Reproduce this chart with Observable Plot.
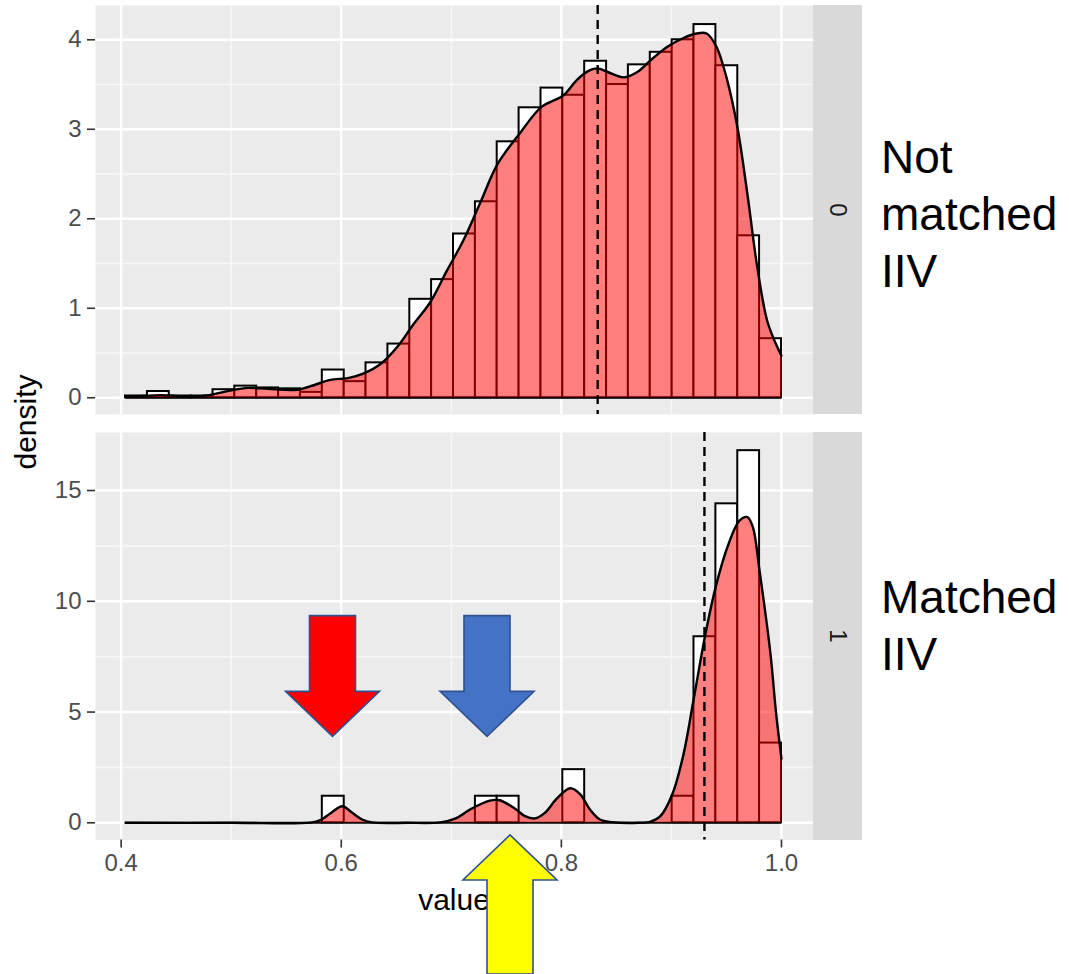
<!DOCTYPE html>
<html><head><meta charset="utf-8">
<script src="https://cdn.jsdelivr.net/npm/d3@7"></script>
<script src="https://cdn.jsdelivr.net/npm/@observablehq/plot@0.6"></script>
<style>
body{margin:0;background:#fff;font-family:"Liberation Sans",Arial,sans-serif;}
#wrap{position:relative;width:1069px;height:974px;overflow:hidden;background:#fff;}
.strip{position:absolute;background:#D9D9D9;display:flex;align-items:center;justify-content:center;}
.strip span{display:block;transform:rotate(90deg);font-size:24px;color:#1A1A1A;font-family:"Liberation Sans",Arial,sans-serif;}
</style></head><body><div id="wrap"></div>
<script>
// ---- data ----
const binEdges = [0.404,0.4239,0.4437,0.4636,0.4835,0.5033,0.5232,0.5431,0.5629,0.5828,0.6027,0.6225,0.6424,0.6623,0.6821,0.7020,0.7219,0.7417,0.7616,0.7815,0.8013,0.8212,0.8411,0.8609,0.8808,0.9007,0.9205,0.9404,0.9603,0.9801,1.0];
const topHist = [0.02,0.07,0.02,0.02,0.09,0.13,0.11,0.10,0.06,0.31,0.18,0.39,0.60,1.10,1.32,1.83,2.19,2.86,3.24,3.46,3.38,3.76,3.50,3.72,3.86,4.00,4.17,3.71,1.81,0.66];
const bottomHist = [0,0,0,0,0,0,0,0,0,1.2,0,0,0,0,0,0,1.2,1.2,0,0,2.4,0,0,0,0,1.2,8.4,14.4,16.8,3.6];
const topCurveX = [0.404,0.42,0.436,0.45,0.463,0.48,0.499,0.515,0.533,0.56,0.575,0.59,0.606,0.62,0.636,0.651,0.665,0.681,0.696,0.711,0.726,0.742,0.762,0.782,0.802,0.814,0.826,0.833,0.842,0.857,0.869,0.881,0.896,0.911,0.923,0.932,0.941,0.95,0.96,0.969,0.978,0.987,0.995,1.0];
const topCurveY = [0.01,0.02,0.03,0.02,0.01,0.03,0.08,0.11,0.10,0.09,0.14,0.20,0.22,0.27,0.38,0.57,0.81,1.07,1.42,1.76,2.17,2.61,2.95,3.25,3.38,3.55,3.66,3.68,3.64,3.58,3.64,3.77,3.92,4.02,4.07,4.07,3.92,3.58,3.02,2.28,1.46,0.86,0.60,0.47];
const bottomCurveX = [0.404,0.50,0.572,0.581,0.590,0.601,0.610,0.619,0.628,0.66,0.690,0.704,0.717,0.735,0.744,0.758,0.767,0.776,0.785,0.796,0.808,0.817,0.826,0.835,0.846,0.87,0.881,0.890,0.901,0.911,0.920,0.931,0.941,0.952,0.962,0.969,0.974,0.980,0.990,0.995,1.0];
const bottomCurveY = [0,0,0.01,0.12,0.42,0.75,0.45,0.15,0.02,0,0.02,0.2,0.6,1.0,1.02,0.63,0.3,0.2,0.45,1.1,1.56,1.3,0.6,0.15,0.03,0,0.05,0.3,1.31,3.1,5.52,8.55,10.8,12.6,13.65,13.8,13.35,11.4,7.63,5.0,2.9];
const means = [0.833, 0.930];
const facetLabels = ["0", "1"];
const xTicks = [0.4, 0.6, 0.8, 1.0];
const xMinor = [0.5, 0.7, 0.9];
const topYTicks = [0, 1, 2, 3, 4];
const topYMinor = [0.5, 1.5, 2.5, 3.5];
const bottomYTicks = [0, 5, 10, 15];
const bottomYMinor = [2.5, 7.5, 12.5];
const xLabel = "value";
const yLabel = "density";
const notes = [["Not", "matched", "IIV"], ["Matched", "IIV"]];
const arrows = [
  {value: 0.5925, tail: 9.33, tip: 3.88, fill: "#FF0000"},
  {value: 0.7329, tail: 9.33, tip: 3.88, fill: "#4472C4"},
  {value: 0.7538, tail: -6.85, tip: -0.57, fill: "#FFFF00"}
];

// ---- layout ----
const W = 1069, FONT = '"Liberation Sans", Arial, sans-serif';
const xDomain = [0.3767, 1.0291];
const mk = (hist) => d3.pairs(binEdges).map(([x1, x2], i) => ({x1, x2, y: hist[i]}));
const crv = (xs, ys) => xs.map((x, i) => ({x, y: ys[i]}));

function panel({hist, cx, cy, mean, yDomain, yTicks, yMinor, height, marginTop, marginBottom, xAxis}) {
  const marks = [
    Plot.frame({fill: "#EBEBEB", stroke: null}),
    Plot.gridX(xMinor, {stroke: "#F7F7F7", strokeOpacity: 1, strokeWidth: 1.5}),
    Plot.gridY(yMinor, {stroke: "#F7F7F7", strokeOpacity: 1, strokeWidth: 1.5}),
    Plot.gridX(xTicks, {stroke: "#FFFFFF", strokeOpacity: 1, strokeWidth: 2.4}),
    Plot.gridY(yTicks, {stroke: "#FFFFFF", strokeOpacity: 1, strokeWidth: 2.4}),
    Plot.axisY(yTicks, {tickSize: 8, tickPadding: 6, fontSize: 24, label: null, tickFormat: d3.format("d"), stroke: "#333333", fill: "#4D4D4D", strokeWidth: 1.6}),
    Plot.rect(mk(hist).filter(d => d.y > 0), {x1: "x1", x2: "x2", y1: 0, y2: "y", fill: "white", stroke: "black", strokeWidth: 2}),
    Plot.ruleY([0], {x1: binEdges[0], x2: binEdges[binEdges.length - 1], stroke: "black", strokeWidth: 2}),
    Plot.areaY(crv(cx, cy), {x: "x", y: "y", fill: "#FF0000", fillOpacity: 0.5, curve: "catmull-rom"}),
    Plot.lineY(crv(cx, cy), {x: "x", y: "y", stroke: "black", strokeWidth: 2.4, curve: "catmull-rom"}),
    Plot.ruleX([mean], {stroke: "black", strokeWidth: 2.4, strokeDasharray: "9,6"})
  ];
  if (xAxis) marks.push(Plot.axisX(xTicks, {tickSize: 8, tickPadding: 6, fontSize: 24, label: null, tickFormat: d3.format(".1f"), stroke: "#333333", fill: "#4D4D4D", strokeWidth: 1.6}));
  return Plot.plot({
    width: W, height, marginLeft: 95, marginRight: W - 813, marginTop, marginBottom,
    x: {domain: xDomain, axis: null},
    y: {domain: yDomain, axis: null},
    style: {fontFamily: FONT, background: "transparent", overflow: "visible"},
    marks
  });
}

const wrap = document.getElementById("wrap");
const topPlot = panel({hist: topHist, cx: topCurveX, cy: topCurveY, mean: means[0], yDomain: [-0.187, 4.383], yTicks: topYTicks, yMinor: topYMinor, height: 414, marginTop: 5, marginBottom: 0, xAxis: false});
const botTop = 414;
const botPlot = panel({hist: bottomHist, cx: bottomCurveX, cy: bottomCurveY, mean: means[1], yDomain: [-0.776, 17.62], yTicks: bottomYTicks, yMinor: bottomYMinor, height: 560, marginTop: 18, marginBottom: 560 - 425.5, xAxis: true});
for (const [p, t] of [[topPlot, 0], [botPlot, botTop]]) {
  p.style.position = "absolute"; p.style.left = "0px"; p.style.top = t + "px";
  wrap.appendChild(p);
}

// strips
[[5, 409], [432, 407.5]].forEach(([t, h], i) => {
  const s = document.createElement("div");
  s.className = "strip";
  Object.assign(s.style, {left: "813px", top: t + "px", width: "49px", height: h + "px"});
  const sp = document.createElement("span"); sp.textContent = facetLabels[i];
  s.appendChild(sp); wrap.appendChild(s);
});

// overlay: titles, notes, arrows
const ov = d3.select(wrap).append("svg").attr("width", W).attr("height", 974)
  .style("position", "absolute").style("left", 0).style("top", 0).style("pointer-events", "none")
  .style("font-family", FONT);
ov.append("text").attr("transform", "translate(36,422) rotate(-90)").attr("text-anchor", "middle")
  .attr("font-size", 30).attr("fill", "black").text(yLabel);
ov.append("text").attr("x", 454).attr("y", 910).attr("text-anchor", "middle")
  .attr("font-size", 30).attr("fill", "black").text(xLabel);
[[173, notes[0]], [613, notes[1]]].forEach(([y0, lines]) => {
  const t = ov.append("text").attr("font-size", 46).attr("fill", "black");
  lines.forEach((l, i) => t.append("tspan").attr("x", 881).attr("y", y0 + i * 57).text(l));
});
const sx = botPlot.scale("x"), sy = botPlot.scale("y");
arrows.forEach(a => {
  const cx = sx.apply(a.value), yT = sy.apply(a.tail) + botTop, yP = sy.apply(a.tip) + botTop;
  const s = Math.sign(yP - yT), sh = 23, hh = 47, hl = 45;
  const yb = yP - s * hl;
  const pts = [[cx - sh, yT], [cx + sh, yT], [cx + sh, yb], [cx + hh, yb], [cx, yP], [cx - hh, yb], [cx - sh, yb]];
  ov.append("polygon").attr("points", pts.map(p => p.join(",")).join(" "))
    .attr("fill", a.fill).attr("stroke", "#2F528F").attr("stroke-width", 1.6).attr("stroke-linejoin", "miter");
});
</script></body></html>
